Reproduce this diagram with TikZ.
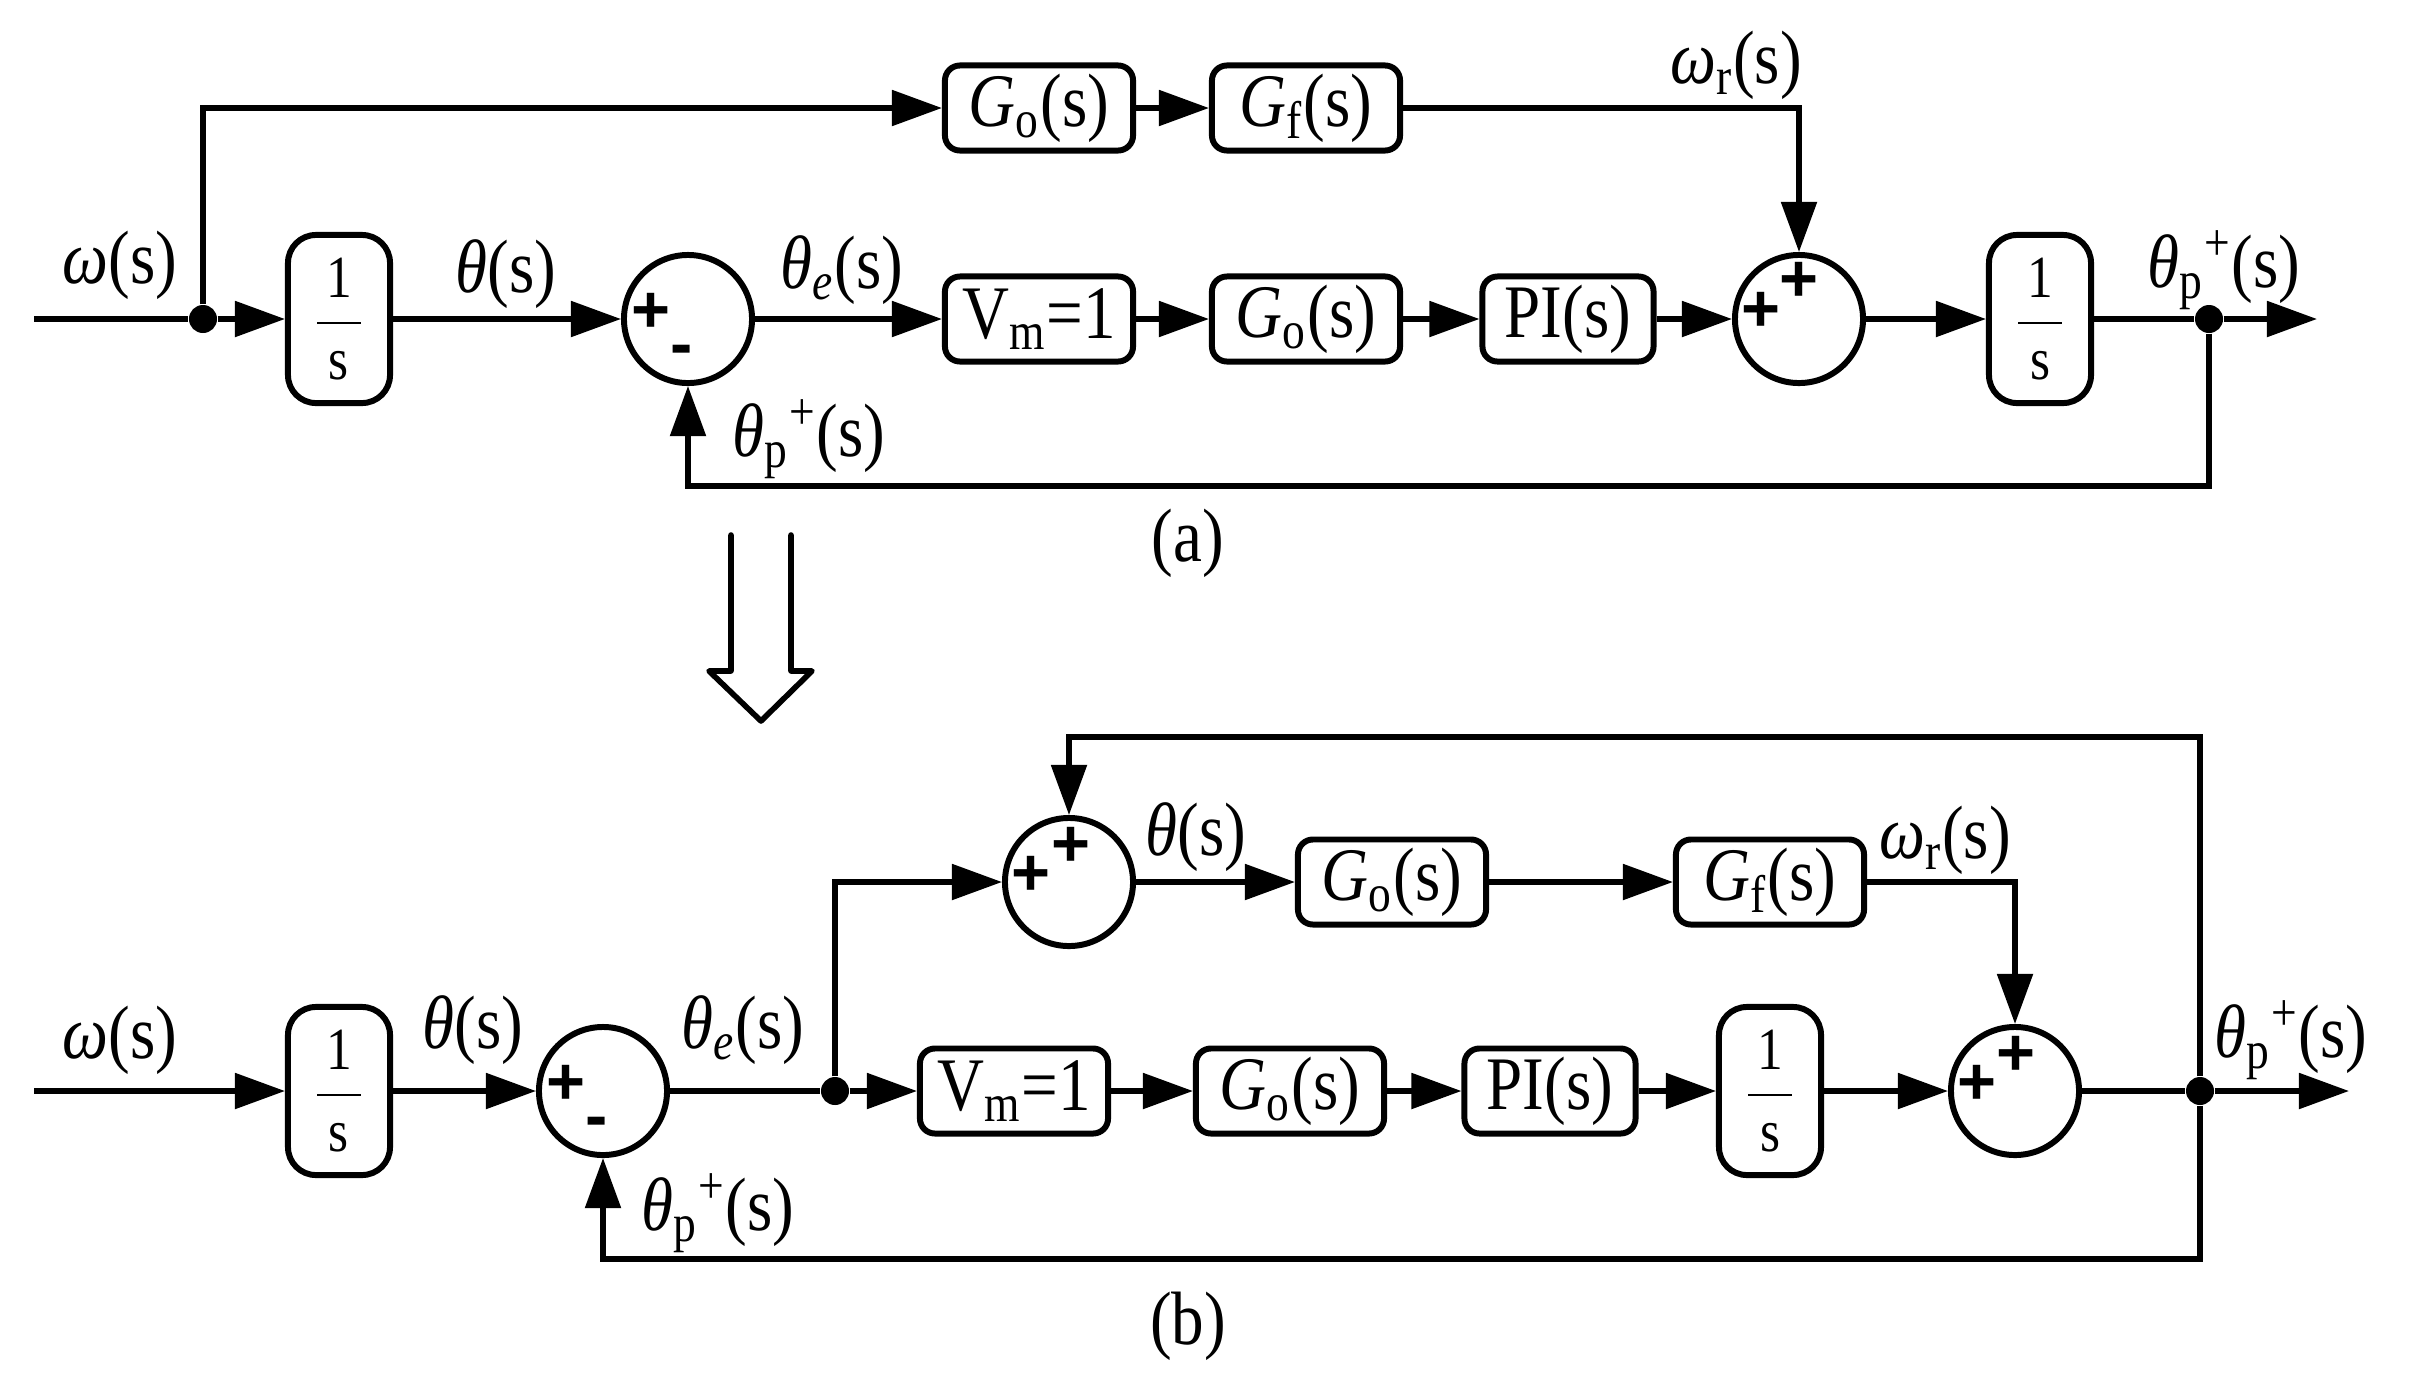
\documentclass[tikz,border=0pt]{standalone}
\usepackage{fontspec}
\setmainfont{Liberation Serif}[FakeStretch=0.86]
\setsansfont{Liberation Sans}
\usepackage{tikz}
\usetikzlibrary{arrows.meta}

\newcommand{\inv}{$\displaystyle\frac{\mbox{\kern2.5pt 1\kern2.5pt}}{\mbox{s}}$}
\newcommand{\thp}{\textit{θ}\textsubscript{p}\textsuperscript{+}(s)}
\newcommand{\Go}{\textit{G}\textsubscript{o}(s)}

\begin{document}
\begin{tikzpicture}[
		x=0.01cm, y=-0.01cm
		,font=\fontsize{21.5}{24}\selectfont
		,blk/.style={draw, rounded corners=0.15cm, line width=1.7pt, minimum width=1.88cm, minimum height=0.85cm, inner sep=0pt}
		,integ/.style={draw, rounded corners=0.28cm, line width=1.7pt, minimum width=1.02cm, minimum height=1.68cm, inner sep=0pt, font=\fontsize{17}{17}\selectfont}
		,sum/.style={draw, circle, line width=1.7pt, minimum size=1.28cm, inner sep=0pt}
		,sgn/.style={font=\fontsize{19}{19}\selectfont\sffamily\bfseries, inner sep=0pt}
		,lbl/.style={inner sep=0pt}
		,dot/.style={circle, fill, minimum size=0.28cm, inner sep=0pt}
		,wire/.style={line width=1.5pt}
		,sig/.style={wire, -{Triangle[length=0.5cm, width=0.35cm]}}
	]
		\useasboundingbox (0,0) rectangle (2417,1381);

		\coordinate (in1) at (34,319);
		\node [dot] (J1) at (203,319) {};
		\node [integ] (I1) at (339,319) {\inv};
		\node [sum] (S1) at (688,319) {};
		\node [blk] (V1) at (1039,319) {V\textsubscript{m}=1};
		\node [blk] (G2) at (1306,319) {\Go};
		\node [blk, minimum width=1.71cm] (P1) at (1568,319) {PI(s)};
		\node [sum] (S2) at (1799,319) {};
		\node [integ] (I2) at (2040,319) {\inv};
		\node [dot] (J2) at (2209,319) {};
		\coordinate (out1) at (2317,319);
		\coordinate (fb1) at (2209,486);
		\node [blk] (G1) at (1039,108) {\Go};
		\node [blk] (F1) at (1306,108) {\textit{G}\textsubscript{f}(s)};

		\node [sgn] (S1p) at ([shift={(-37,-6)}]S1) {+};
		\node [sgn] (S1m) at ([shift={(-6,37)}]S1) {-};
		\node [sgn] (S2p) at ([shift={(-38,-7)}]S2) {+};
		\node [sgn] (S2q) at ([shift={(0,-37)}]S2) {+};

		\draw [wire] (in1) -- (J1);
		\draw [sig] (J1) -- (I1);
		\draw [sig] (J1) |- (G1);
		\draw [sig] (G1) -- (F1);
		\draw [sig] (F1) -| (S2);
		\draw [sig] (I1) -- (S1);
		\draw [sig] (S1) -- (V1);
		\draw [sig] (V1) -- (G2);
		\draw [sig] (G2) -- (P1);
		\draw [sig] (P1) -- (S2);
		\draw [sig] (S2) -- (I2);
		\draw [wire] (I2) -- (J2);
		\draw [sig] (J2) -- (out1);
		\draw [sig] (J2) -- (fb1) -| (S1);

		\node [lbl] (Lw1) at (120,265) {\textit{ω}(s)};
		\node [lbl] (Lt1) at (506,274) {\textit{θ}(s)};
		\node [lbl] (Le1) at (842,270) {\textit{θ}\textsubscript{\textit{e}}(s)};
		\node [lbl] (Lr1) at (1736,65) {\textit{ω}\textsubscript{r}(s)};
		\node [lbl] (Lp1) at (2224,270) {\thp};
		\node [lbl] (Lq1) at (809,439) {\thp};
		\node [lbl] (La) at (1188,543) {(a)};

		\draw [line width=1.6pt, line join=round, line cap=round] (731,535) -- (731,671) -- (709,671) -- (761,721) -- (812,671) -- (791,671) -- (791,535);

		\coordinate (in2) at (34,1091);
		\node [integ] (I3) at (339,1091) {\inv};
		\node [sum] (S3) at (603,1091) {};
		\node [dot] (J3) at (835,1091) {};
		\node [blk] (V2) at (1014,1091) {V\textsubscript{m}=1};
		\node [blk] (G5) at (1290,1091) {\Go};
		\node [blk, minimum width=1.71cm] (P2) at (1550,1091) {PI(s)};
		\node [integ] (I4) at (1770,1091) {\inv};
		\node [sum] (S4) at (2015,1091) {};
		\node [dot] (J4) at (2200,1091) {};
		\coordinate (out2) at (2349,1091);
		\coordinate (fb2) at (2200,1259);
		\coordinate (fb3) at (2200,737);
		\node [sum] (S5) at (1069,882) {};
		\node [blk] (G4) at (1392,882) {\Go};
		\node [blk] (F2) at (1770,882) {\textit{G}\textsubscript{f}(s)};

		\node [sgn] (S3p) at ([shift={(-37,-6)}]S3) {+};
		\node [sgn] (S3m) at ([shift={(-6,37)}]S3) {-};
		\node [sgn] (S4p) at ([shift={(-38,-6)}]S4) {+};
		\node [sgn] (S4q) at ([shift={(1,-35)}]S4) {+};
		\node [sgn] (S5p) at ([shift={(-38,-6)}]S5) {+};
		\node [sgn] (S5q) at ([shift={(2,-35)}]S5) {+};

		\draw [sig] (in2) -- (I3);
		\draw [sig] (I3) -- (S3);
		\draw [wire] (S3) -- (J3);
		\draw [sig] (J3) -- (V2);
		\draw [sig] (J3) |- (S5);
		\draw [sig] (S5) -- (G4);
		\draw [sig] (G4) -- (F2);
		\draw [sig] (F2) -| (S4);
		\draw [sig] (V2) -- (G5);
		\draw [sig] (G5) -- (P2);
		\draw [sig] (P2) -- (I4);
		\draw [sig] (I4) -- (S4);
		\draw [wire] (S4) -- (J4);
		\draw [sig] (J4) -- (out2);
		\draw [sig] (J4) -- (fb2) -| (S3);
		\draw [sig] (J4) -- (fb3) -| (S5);

		\node [lbl] (Lw2) at (120,1040) {\textit{ω}(s)};
		\node [lbl] (Lt2) at (473,1030) {\textit{θ}(s)};
		\node [lbl] (Le2) at (743,1030) {\textit{θ}\textsubscript{\textit{e}}(s)};
		\node [lbl] (Lt3) at (1196,837) {\textit{θ}(s)};
		\node [lbl] (Lr2) at (1945,840) {\textit{ω}\textsubscript{r}(s)};
		\node [lbl] (Lp2) at (2291,1040) {\thp};
		\node [lbl] (Lq2) at (718,1213) {\thp};
		\node [lbl] (Lb) at (1188,1326) {(b)};
	\end{tikzpicture}
\end{document}
